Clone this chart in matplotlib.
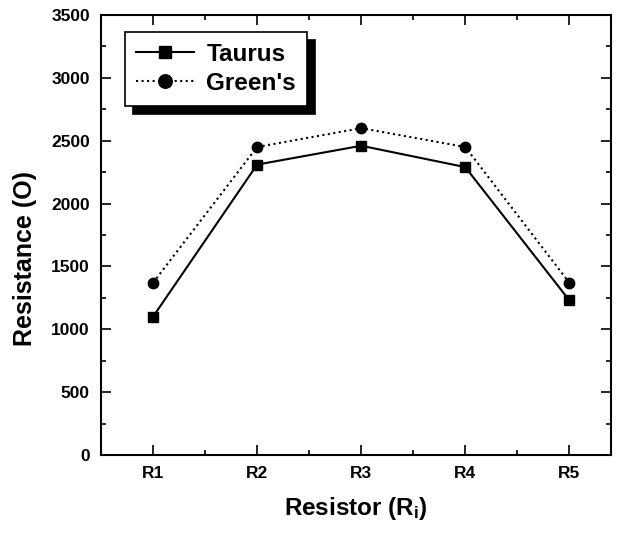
import matplotlib
matplotlib.use("Agg")
import matplotlib.pyplot as plt
from matplotlib.ticker import MultipleLocator

plt.rcParams['font.family'] = ['Liberation Sans', 'DejaVu Sans']
plt.rcParams['font.weight'] = 'bold'
plt.rcParams['mathtext.default'] = 'regular'

categories = ['R1', 'R2', 'R3', 'R4', 'R5']
taurus = [1100, 2310, 2460, 2290, 1230]
greens = [1370, 2450, 2600, 2450, 1370]

fig = plt.figure(figsize=(6.21, 5.37), dpi=100)
ax = fig.add_axes([101/621, 1 - 455/537, (611-101)/621, (455-15)/537])

x = list(range(1, len(categories) + 1))
ax.plot(x, taurus, '-', color='black', lw=1.5, marker='s', ms=7, label='Taurus')
ax.plot(x, greens, ':', color='black', lw=1.5, marker='o', ms=7.5, label="Green's")

ax.set_xlim(0.5, 5.4)
ax.set_ylim(0, 3500)
ax.set_xticks(x)
ax.set_xticklabels(categories)
ax.xaxis.set_minor_locator(MultipleLocator(0.5))
ax.yaxis.set_major_locator(MultipleLocator(500))
ax.yaxis.set_minor_locator(MultipleLocator(250))
ax.tick_params(which='both', direction='in', top=True, right=True, width=1.2)
ax.tick_params(which='major', length=7, labelsize=12.5, pad=8)
ax.tick_params(which='minor', length=3.5)
for lab in ax.get_xticklabels() + ax.get_yticklabels():
    lab.set_fontweight('bold')
for s in ax.spines.values():
    s.set_linewidth(1.5)

ax.set_xlabel('Resistor (R$_\\mathregular{i}$)', fontsize=17.5, fontweight='bold', labelpad=10)
ax.set_ylabel('Resistance (O)', fontsize=18, fontweight='bold')
ax.yaxis.set_label_coords((37 - 101) / 510, (455 - 259) / 440)

leg = ax.legend(loc='upper left', bbox_to_anchor=(0.047, 0.962), fontsize=17.5,
                frameon=True, fancybox=False, shadow={'color': 'black', 'alpha': 1, 'ox': 6, 'oy': -6},
                edgecolor='black', handlelength=2.4, borderpad=0.45, labelspacing=0.25,
                handletextpad=0.5, borderaxespad=0, markerscale=1.3)
leg.get_frame().set_linewidth(1.2)
for t in leg.get_texts():
    t.set_fontweight('bold')

fig.savefig('out.png', dpi=100)
